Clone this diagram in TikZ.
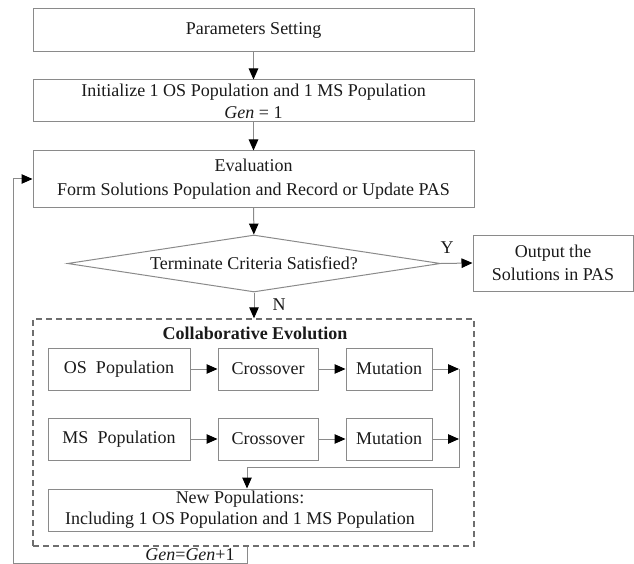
\documentclass[tikz,border=0pt]{standalone}
\usepackage{fontspec}
\setmainfont{Liberation Serif}
\usetikzlibrary{arrows.meta,shapes.geometric}
\definecolor{linegray}{HTML}{8A8A8A}
\definecolor{dashgray}{HTML}{6E6E6E}
\definecolor{txt}{HTML}{1A1A1A}
\begin{document}
\begin{tikzpicture}[x=1pt,y=-1pt,
  every node/.style={text=txt, font=\fontsize{18}{22}\selectfont},
  box/.style={draw=linegray, line width=1pt, align=center, inner sep=0pt},
  lbl/.style={inner sep=0pt},
  conn/.style={draw=linegray, line width=1pt},
  arr/.style={conn, -{Triangle[length=11pt,width=9.5pt,color=black]}},
  collbox/.style={draw=dashgray, line width=1.4pt, dash pattern=on 6pt off 4pt, inner sep=0pt}]
\useasboundingbox (0,0) rectangle (634,564);
% main column
\node[box, minimum width=441pt, minimum height=43pt] (param) at (253.5,30.5) {Parameters Setting};
\node[box, minimum width=441pt, minimum height=42pt] (init) at (253.5,101) {Initialize 1 OS Population and 1 MS Population\\[0pt]\textit{Gen} = 1};
\node[box, minimum width=441pt, minimum height=56pt] (eval) at (253.5,179) {Evaluation\\[2pt]Form Solutions Population and Record or Update PAS};
\node[diamond, draw=linegray, line width=1pt, inner sep=0pt, aspect=6.5, minimum width=373pt, minimum height=57pt] (term) at (254,263.5) {Terminate Criteria Satisfied?};
\node[box, minimum width=160pt, minimum height=56pt] (out) at (553,263) {Output the\\[1pt]Solutions in PAS};
% collaborative evolution
\node[collbox, minimum width=441pt, minimum height=227pt] (coll) at (253.5,432.5) {};
\node[lbl, font=\fontsize{18}{22}\selectfont\bfseries] (colltitle) at (255,333) {Collaborative Evolution};
\node[box, minimum width=142pt, minimum height=42pt] (os) at (119,369) {OS\ \ Population};
\node[box, minimum width=100pt, minimum height=42pt] (cr1) at (268,369) {Crossover};
\node[box, minimum width=86pt, minimum height=42pt] (mu1) at (389,369) {Mutation};
\node[box, minimum width=142pt, minimum height=42pt] (ms) at (119,439) {MS\ \ Population};
\node[box, minimum width=100pt, minimum height=42pt] (cr2) at (268,439) {Crossover};
\node[box, minimum width=86pt, minimum height=42pt] (mu2) at (389,439) {Mutation};
\node[box, minimum width=384pt, minimum height=42pt] (newpop) at (240,510) {New Populations:\\[-1pt]Including 1 OS Population and 1 MS Population};
% labels
\node[lbl] (ylab) at (447,248) {Y};
\node[lbl] (nlab) at (279,305) {N};
\node[lbl] (genlab) at (190,555) {\textit{Gen}=\textit{Gen}+1};
% coordinates
\coordinate (j1) at (459,369);
\coordinate (j2) at (459,439);
\coordinate (j3) at (459,467);
\coordinate (j4) at (247,467);
\coordinate (lb) at (247,563.5);
\coordinate (ll) at (13,563.5);
% connectors
\draw[arr] (param) -- (init);
\draw[arr] (init) -- (eval);
\draw[arr] (eval) -- (term);
\draw[arr] (term.east) -- (out.west);
\draw[arr] (term.south) -- (coll.north -| term.south);
\draw[arr] (os) -- (cr1);
\draw[arr] (cr1) -- (mu1);
\draw[arr] (mu1) -- (j1);
\draw[arr] (ms) -- (cr2);
\draw[arr] (cr2) -- (mu2);
\draw[arr] (mu2) -- (j2);
\draw[conn] (j1) -- (j3) -- (j4);
\draw[arr] (j4) -- (newpop.north -| j4);
\draw[arr] (coll.south -| lb) -- (lb) -- (ll) |- (eval.west);
\end{tikzpicture}
\end{document}
